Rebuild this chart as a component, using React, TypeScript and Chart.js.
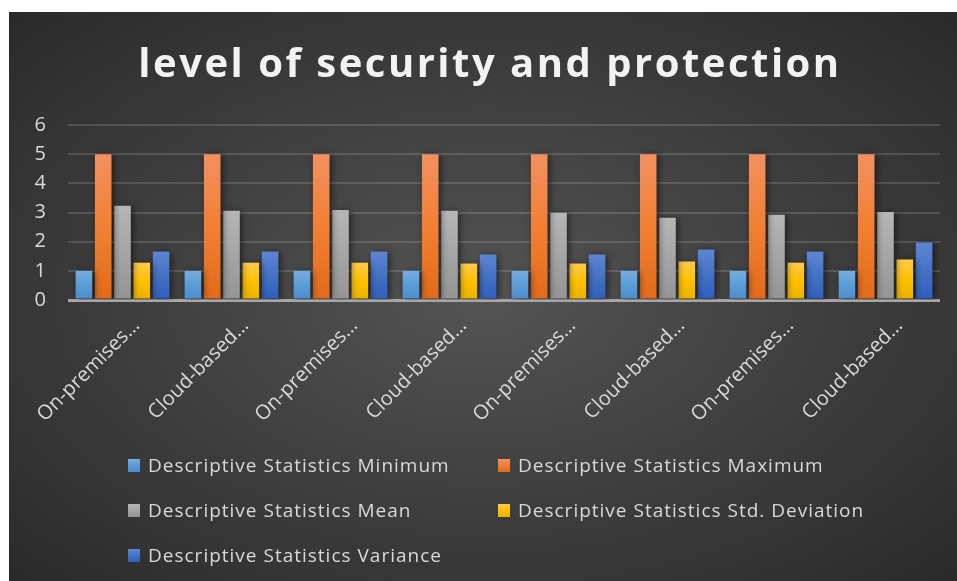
import React, { useEffect, useRef } from "react";
import { Chart, registerables } from "chart.js";

Chart.register(...registerables);

const TITLE = "level of security and protection";
const categories = [
  "On-premises…",
  "Cloud-based…",
  "On-premises…",
  "Cloud-based…",
  "On-premises…",
  "Cloud-based…",
  "On-premises…",
  "Cloud-based…",
];
const minimumValues = [1, 1, 1, 1, 1, 1, 1, 1];
const maximumValues = [5, 5, 5, 5, 5, 5, 5, 5];
const meanValues = [3.23, 3.06, 3.09, 3.06, 2.99, 2.82, 2.92, 3.02];
const stdDevValues = [1.28, 1.28, 1.28, 1.25, 1.25, 1.32, 1.28, 1.39];
const varianceValues = [1.66, 1.66, 1.66, 1.56, 1.56, 1.73, 1.66, 1.97];
const yTicks = [0, 1, 2, 3, 4, 5, 6];

const seriesNames = [
  "Descriptive Statistics Minimum",
  "Descriptive Statistics Maximum",
  "Descriptive Statistics Mean",
  "Descriptive Statistics Std. Deviation",
  "Descriptive Statistics Variance",
];
const seriesValues = [minimumValues, maximumValues, meanValues, stdDevValues, varianceValues];
// [top, mid, bottom] gradient stops
const seriesColors = [
  ["#76aee2", "#5b9bd5", "#4a8ccd"],
  ["#f29060", "#f27f33", "#e26a1a"],
  ["#b6b6b6", "#a5a5a5", "#949494"],
  ["#ffca4c", "#ffc000", "#e8b000"],
  ["#5e85d4", "#4472c4", "#2f5dbd"],
];

const FONT = "'Open Sans', sans-serif";
const TEXT = "#d9d9d9";

const shadowPlugin = {
  id: "barShadow",
  beforeDatasetsDraw(chart: any) {
    const c = chart.ctx;
    c.save();
    c.shadowColor = "rgba(0,0,0,0.55)";
    c.shadowBlur = 7;
    c.shadowOffsetX = 2;
    c.shadowOffsetY = 1;
  },
  afterDatasetsDraw(chart: any) {
    chart.ctx.restore();
  },
};

const titlePlugin = {
  id: "spacedTitle",
  afterDraw(chart: any) {
    const c = chart.ctx;
    c.save();
    c.font = `bold 40px ${FONT}`;
    (c as any).letterSpacing = "2.5px";
    c.fillStyle = "#f2f2f2";
    c.textAlign = "center";
    c.textBaseline = "middle";
    c.fillText(TITLE, 481, 54);
    c.restore();
  },
};

export default function App() {
  const ref = useRef<HTMLCanvasElement | null>(null);

  useEffect(() => {
    if (!ref.current) return;
    const datasets = seriesNames.map((name, i) => ({
      label: name,
      data: seriesValues[i],
      categoryPercentage: 0.885,
      barPercentage: 0.86,
      borderWidth: 0,
      backgroundColor: (ctx: any) => {
        const cols = seriesColors[i];
        const chart = ctx.chart;
        const y = chart.scales && chart.scales.y;
        if (ctx.type !== "data" || !y || !chart.chartArea) return cols[1];
        const top = y.getPixelForValue(ctx.raw);
        const bottom = y.getPixelForValue(0);
        if (!isFinite(top) || !isFinite(bottom) || top === bottom) return cols[1];
        const g = chart.ctx.createLinearGradient(0, top, 0, bottom);
        g.addColorStop(0, cols[0]);
        g.addColorStop(0.5, cols[1]);
        g.addColorStop(1, cols[2]);
        return g;
      },
    }));

    const chart = new Chart(ref.current, {
      type: "bar",
      data: { labels: categories, datasets },
      plugins: [shadowPlugin, titlePlugin],
      options: {
        responsive: false,
        animation: false,
        devicePixelRatio: 1,
        layout: { padding: { left: 0, right: 17, top: 113, bottom: 0 } },
        plugins: {
          legend: { display: false },
          tooltip: { enabled: false },
          title: { display: false },
        },
        scales: {
          x: {
            grid: { display: false },
            border: { display: false },
            ticks: {
              color: TEXT,
              font: { family: FONT, size: 20 },
              minRotation: 45,
              maxRotation: 45,
              autoSkip: false,
              labelOffset: 14,
              padding: 6,
            },
            afterFit: (s: any) => {
              s.height = 152;
            },
          },
          y: {
            min: yTicks[0],
            max: yTicks[yTicks.length - 1],
            border: { display: false },
            grid: {
              drawTicks: false,
              color: (c: any) => (c.tick && c.tick.value === 0 ? "#a6a6a6" : "rgba(255,255,255,0.14)"),
              lineWidth: (c: any) => (c.tick && c.tick.value === 0 ? 3 : 2),
            },
            afterBuildTicks: (s: any) => {
              s.ticks = yTicks.map((v) => ({ value: v }));
            },
            ticks: {
              color: TEXT,
              font: { family: FONT, size: 20 },
              padding: 22,
            },
            afterFit: (s: any) => {
              s.width = 59;
            },
          },
        },
      },
    });
    return () => chart.destroy();
  }, []);

  const colLeft = [119, 489];
  const rowTop = [453, 498, 543];

  return (
    <div
      style={{
        position: "fixed",
        left: 9,
        top: 12,
        width: 948,
        height: 569,
        overflow: "hidden",
        background: "radial-gradient(ellipse at 50% 50%, #545454 0%, #414141 45%, #2a2a2a 100%)",
        fontFamily: FONT,
      }}
    >
      <canvas ref={ref} width={948} height={440} style={{ position: "absolute", left: 0, top: 0, width: 948, height: 440 }} />
      {seriesNames.map((name, i) => {
        const cols = seriesColors[i];
        const left = colLeft[i % 2];
        const top = rowTop[Math.floor(i / 2)];
        return (
          <div
            key={i}
            style={{
              position: "absolute",
              left,
              top: top - 14,
              height: 28,
              display: "flex",
              alignItems: "center",
              whiteSpace: "nowrap",
              color: TEXT,
              fontSize: 19,
              letterSpacing: "1px",
            }}
          >
            <span
              style={{
                display: "inline-block",
                width: 12,
                height: 13,
                marginRight: 8,
                background: `linear-gradient(${cols[0]}, ${cols[1]}, ${cols[2]})`,
              }}
            />
            <span>{name}</span>
          </div>
        );
      })}
    </div>
  );
}
